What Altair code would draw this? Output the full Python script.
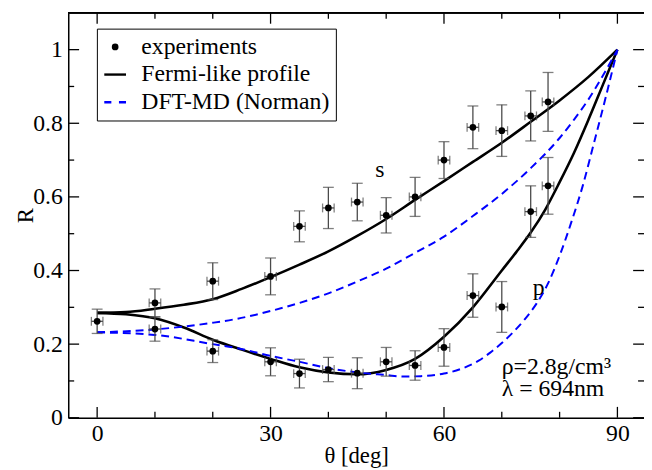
import altair as alt
import pandas as pd

# ---------------- data ----------------
EXP_X = [0, 10, 10, 20, 20, 30, 30, 35, 35, 40, 40, 45, 45, 50, 50,
         55, 55, 60, 60, 65, 65, 70, 70, 75, 75, 78, 78]
EXP_Y = [0.262, 0.312, 0.241, 0.371, 0.181, 0.384, 0.152, 0.520, 0.120,
         0.570, 0.131, 0.586, 0.121, 0.550, 0.152, 0.600, 0.142, 0.700,
         0.191, 0.789, 0.332, 0.780, 0.301, 0.820, 0.560, 0.858, 0.630]
EXP_ERR = [0.033, 0.038, 0.033, 0.050, 0.031, 0.050, 0.038, 0.042, 0.039,
           0.056, 0.033, 0.051, 0.042, 0.048, 0.039, 0.053, 0.040, 0.050,
           0.051, 0.058, 0.059, 0.070, 0.069, 0.068, 0.070, 0.080, 0.077]
EXP_XERR = 1.0

FERMI_S_X = [0, 5, 10, 15, 20, 25, 30, 35, 40, 45, 50, 55, 60, 65, 70, 75, 80, 85, 90]
FERMI_S_Y = [0.285, 0.287, 0.296, 0.307, 0.322, 0.350, 0.382, 0.416, 0.452, 0.494,
             0.540, 0.592, 0.643, 0.695, 0.747, 0.804, 0.862, 0.926, 1.0]

FERMI_P_X = [0, 5, 10, 15, 20, 25, 30, 35, 40, 45, 50, 55, 60, 65, 70, 72.5, 75,
             77.5, 80, 82.5, 85, 87.5, 90]
FERMI_P_Y = [0.285, 0.281, 0.270, 0.245, 0.212, 0.185, 0.160, 0.137, 0.123, 0.118,
             0.130, 0.160, 0.220, 0.300, 0.400, 0.450, 0.503, 0.565, 0.640, 0.720,
             0.810, 0.905, 1.0]

DFT_S_X = [0, 10, 20, 24.3, 30, 35, 40, 45, 50, 55, 60, 65, 70, 75, 80, 82.5, 85, 87.5, 90]
DFT_S_Y = [0.232, 0.240, 0.258, 0.269, 0.290, 0.312, 0.338, 0.370, 0.405, 0.448,
           0.492, 0.548, 0.608, 0.678, 0.760, 0.810, 0.865, 0.930, 1.0]

DFT_P_X = [0, 10, 20, 24.3, 30, 35, 40, 45, 50, 53, 56, 60, 63, 66, 68, 70, 72, 74,
           76, 78, 80, 82, 84, 86, 88, 90]
DFT_P_Y = [0.232, 0.225, 0.200, 0.189, 0.168, 0.152, 0.135, 0.123, 0.116, 0.112,
           0.113, 0.120, 0.133, 0.155, 0.177, 0.203, 0.233, 0.268, 0.310, 0.365,
           0.440, 0.530, 0.630, 0.750, 0.872, 1.0]

ANN_TEXT = ["s", "p"]
ANN_X = [48.9, 76.4]
ANN_Y = [0.673, 0.352]

INFO_TEXT = ["\u03c1=2.8g/cm\u00b3", "\u03bb = 694nm"]
INFO_X = [70.0, 70.0]
INFO_Y = [0.118, 0.060]

X_MAJOR = [0, 30, 60, 90]
X_MINOR = [10, 20, 40, 50, 70, 80]
Y_MAJOR = [0, 0.2, 0.4, 0.6, 0.8, 1.0]
Y_MINOR = [0.1, 0.3, 0.5, 0.7, 0.9]

SERIES = ["experiments", "Fermi-like profile", "DFT-MD (Norman)"]
SERIES_COLORS = ["black", "black", "#0000ff"]

W, H = 583, 410
FONT = "Liberation Serif, 'Times New Roman', Times, 'DejaVu Serif', serif"

# legend / point glyphs (unit-square paths)
DOT = "M-0.2,0A0.2,0.2 0 1,0 0.2,0A0.2,0.2 0 1,0 -0.2,0Z"
SOLID = "M-1,0H1"
DASHED = "M-1,0H-0.35M0.35,0H1"

# ---------------- tables ----------------
def curve_table(name, pol, xs_, ys_):
    return pd.DataFrame({"x": xs_, "y": ys_, "curve": name + pol,
                         "order": list(range(len(xs_)))})


fermi = pd.concat([curve_table("fermi", "s", FERMI_S_X, FERMI_S_Y),
                   curve_table("fermi", "p", FERMI_P_X, FERMI_P_Y)])
dft = pd.concat([curve_table("dft", "s", DFT_S_X, DFT_S_Y),
                 curve_table("dft", "p", DFT_P_X, DFT_P_Y)])

exp = pd.DataFrame({"x": EXP_X, "y": EXP_Y, "err": EXP_ERR})
exp["ylo"] = exp["y"] - exp["err"]
exp["yhi"] = exp["y"] + exp["err"]
exp["xlo"] = exp["x"] - EXP_XERR
exp["xhi"] = exp["x"] + EXP_XERR
exp["model"] = "experiments"

ann = pd.DataFrame({"x": ANN_X, "y": ANN_Y, "t": ANN_TEXT})
info = pd.DataFrame({"x": INFO_X, "y": INFO_Y, "t": INFO_TEXT})

xs = alt.Scale(domain=[-5, 94.6], nice=False, zero=False)
ys = alt.Scale(domain=[0, 1.1], nice=False, zero=False)

xaxis = alt.Axis(values=X_MAJOR, ticks=False, tickSize=0, grid=False, domain=True,
                 domainColor="black", domainWidth=1.5, labelFont=FONT, labelFontSize=24,
                 labelColor="black", labelPadding=4, title="\u03b8 [deg]",
                 titleFont=FONT, titleFontSize=23, titleFontWeight="normal",
                 titleColor="black", titleY=45, titleBaseline="alphabetic")
yaxis = alt.Axis(values=Y_MAJOR, ticks=False, tickSize=0, grid=False, domain=True,
                 domainColor="black", domainWidth=1.5, labelFont=FONT, labelFontSize=24,
                 labelColor="black", labelPadding=6, format=".1~f", title="R",
                 titleFont=FONT, titleFontSize=23, titleFontWeight="normal",
                 titleColor="black", titleX=-36, titleY=H / 2, titleAngle=270,
                 titleBaseline="alphabetic", titleAlign="center")


def X(field):
    return alt.X(field, scale=xs, axis=xaxis)


def Y(field):
    return alt.Y(field, scale=ys, axis=yaxis)


def make_legend():
    return alt.Legend(
        title=None, orient="none", legendX=29, legendY=16,
        fillColor="white", strokeColor="black", padding=6, rowPadding=3,
        labelFont=FONT, labelFontSize=24, labelColor="black", labelOffset=14,
        symbolSize=484, symbolFillColor="black", symbolStrokeWidth=2.4,
        labelLimit=400)


fermi_lines = alt.Chart(fermi).mark_line(interpolate="monotone", color="black",
                                         strokeWidth=2.6).encode(
    x=X("x:Q"), y=Y("y:Q"), detail="curve:N", order="order:Q")
dft_lines = alt.Chart(dft).mark_line(interpolate="monotone", color="#0000ff",
                                     strokeWidth=2, strokeDash=[8, 5]).encode(
    x=X("x:Q"), y=Y("y:Q"), detail="curve:N", order="order:Q")

EB = "#4a4a4a"
yerr = alt.Chart(exp).mark_rule(color=EB, strokeWidth=1.3).encode(
    x=X("x:Q"), y=Y("ylo:Q"), y2="yhi:Q")
xerr = alt.Chart(exp).mark_rule(color=EB, strokeWidth=1.3).encode(
    x=X("xlo:Q"), x2="xhi:Q", y=Y("y:Q"))
ycap_lo = alt.Chart(exp).mark_tick(color=EB, orient="horizontal", size=11, thickness=1.3).encode(
    x=X("x:Q"), y=Y("ylo:Q"))
ycap_hi = alt.Chart(exp).mark_tick(color=EB, orient="horizontal", size=11, thickness=1.3).encode(
    x=X("x:Q"), y=Y("yhi:Q"))
xcap_lo = alt.Chart(exp).mark_tick(color=EB, orient="vertical", size=9, thickness=1.3).encode(
    x=X("xlo:Q"), y=Y("y:Q"))
xcap_hi = alt.Chart(exp).mark_tick(color=EB, orient="vertical", size=9, thickness=1.3).encode(
    x=X("xhi:Q"), y=Y("y:Q"))

points = alt.Chart(exp).mark_point(filled=False, fill="black", fillOpacity=1,
                                   strokeWidth=2.4, size=484, opacity=1).encode(
    x=X("x:Q"), y=Y("y:Q"),
    color=alt.Color("model:N", scale=alt.Scale(domain=SERIES, range=SERIES_COLORS),
                    legend=make_legend()),
    shape=alt.Shape("model:N", scale=alt.Scale(domain=SERIES, range=[DOT, SOLID, DASHED]),
                    legend=make_legend()),
)

ann_layer = alt.Chart(ann).mark_text(font=FONT, fontSize=24, color="black",
                                     baseline="middle", align="center").encode(
    x=X("x:Q"), y=Y("y:Q"), text="t:N")
info_layer = alt.Chart(info).mark_text(font=FONT, fontSize=24, color="black",
                                       baseline="alphabetic", align="left").encode(
    x=X("x:Q"), y=Y("y:Q"), text="t:N")

# inward ticks on all four sides
xmaj = pd.DataFrame({"v": X_MAJOR})
xmin = pd.DataFrame({"v": X_MINOR})
ymaj = pd.DataFrame({"v": Y_MAJOR})
ymin = pd.DataFrame({"v": Y_MINOR})
tk = dict(color="black", strokeWidth=1.3)
MAJ, MIN = 11, 6
tick_layers = []
for df, L in [(xmaj, MAJ), (xmin, MIN)]:
    tick_layers.append(alt.Chart(df).mark_rule(**tk).encode(
        x=X("v:Q"), y=alt.value(H), y2=alt.value(H - L)))
    tick_layers.append(alt.Chart(df).mark_rule(**tk).encode(
        x=X("v:Q"), y=alt.value(0), y2=alt.value(L)))
for df, L in [(ymaj, MAJ), (ymin, MIN)]:
    tick_layers.append(alt.Chart(df).mark_rule(**tk).encode(
        y=Y("v:Q"), x=alt.value(0), x2=alt.value(L)))
    tick_layers.append(alt.Chart(df).mark_rule(**tk).encode(
        y=Y("v:Q"), x=alt.value(W - L), x2=alt.value(W)))

top_border = alt.Chart(xmaj).mark_rule(color="black", strokeWidth=1.5).encode(
    x=alt.value(0), x2=alt.value(W + 5), y=alt.value(0))

chart = alt.layer(
    fermi_lines, dft_lines, yerr, xerr, ycap_lo, ycap_hi, xcap_lo, xcap_hi, points,
    ann_layer, info_layer, *tick_layers, top_border
).properties(
    width=W, height=H,
    autosize=alt.AutoSizeParams(type="none"),
    padding={"left": 61, "top": 2, "right": 0, "bottom": 50},
).configure_view(stroke=None).configure(background="white")

chart.save("out.html", embed_options={"renderer": "svg", "actions": False})
